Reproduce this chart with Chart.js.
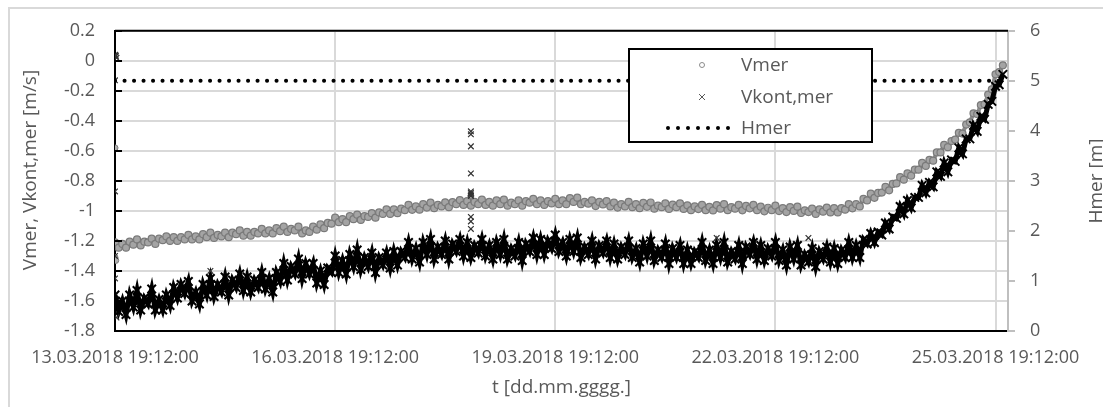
<!DOCTYPE html>
<html>
<head>
<meta charset="utf-8">
<script src="https://cdn.jsdelivr.net/npm/chart.js@4.4.1/dist/chart.umd.min.js"></script>
<style>
  html, body { margin: 0; padding: 0; background: #fff; }
  #wrap { width: 1103px; height: 407px; }
</style>
</head>
<body>
<div id="wrap"><canvas id="chart" width="1103" height="407"></canvas></div>
<script>
// time axis: days after 13.03.2018 19:12:00, one reading every 0.05 day
const START = Date.UTC(2018, 2, 13, 19, 12, 0);
const T_STEP = 0.05;
const xTicks = [0, 3, 6, 9, 12];

// one row per day
const vmer = [
  -1.21, -1.245, -1.22, -1.245, -1.205, -1.225, -1.19, -1.23, -1.205, -1.21, -1.185, -1.22, -1.185, -1.195, -1.17, -1.20, -1.175, -1.20, -1.175, -1.19,
  -1.16, -1.19, -1.17, -1.19, -1.155, -1.175, -1.145, -1.18, -1.16, -1.17, -1.145, -1.175, -1.145, -1.155, -1.13, -1.165, -1.14, -1.165, -1.14, -1.15,
  -1.12, -1.15, -1.13, -1.15, -1.115, -1.135, -1.105, -1.14, -1.12, -1.13, -1.105, -1.15, -1.13, -1.14, -1.105, -1.125, -1.09, -1.115, -1.08, -1.085,
  -1.045, -1.075, -1.055, -1.075, -1.035, -1.055, -1.025, -1.06, -1.035, -1.04, -1.015, -1.045, -1.01, -1.02, -0.99, -1.02, -0.99, -1.015, -0.985, -0.995,
  -0.96, -0.993, -0.97, -0.992, -0.955, -0.978, -0.945, -0.982, -0.96, -0.97, -0.943, -0.975, -0.942, -0.955, -0.928, -0.96, -0.935, -0.965, -0.94, -0.955,
  -0.925, -0.96, -0.94, -0.965, -0.93, -0.955, -0.925, -0.965, -0.945, -0.955, -0.93, -0.965, -0.935, -0.945, -0.92, -0.955, -0.93, -0.96, -0.935, -0.95,
  -0.92, -0.955, -0.93, -0.955, -0.915, -0.94, -0.912, -0.955, -0.94, -0.952, -0.93, -0.968, -0.94, -0.957, -0.935, -0.97, -0.945, -0.978, -0.955, -0.97,
  -0.94, -0.975, -0.955, -0.982, -0.947, -0.973, -0.944, -0.985, -0.965, -0.975, -0.95, -0.987, -0.958, -0.975, -0.95, -0.987, -0.963, -0.995, -0.97, -0.988,
  -0.96, -0.995, -0.973, -0.997, -0.961, -0.985, -0.955, -0.995, -0.975, -0.985, -0.96, -0.996, -0.967, -0.983, -0.96, -0.995, -0.972, -1.003, -0.979, -0.995,
  -0.965, -1.001, -0.982, -1.008, -0.975, -1.00, -0.972, -1.014, -0.996, -1.008, -0.985, -1.02, -0.99, -1.005, -0.978, -1.01, -0.982, -1.01, -0.982, -0.992,
  -0.955, -0.983, -0.955, -0.97, -0.92, -0.93, -0.885, -0.913, -0.88, -0.878, -0.84, -0.863, -0.82, -0.817, -0.775, -0.792, -0.75, -0.765, -0.725, -0.725,
  -0.68, -0.70, -0.66, -0.665, -0.61, -0.61, -0.56, -0.575, -0.535, -0.525, -0.48, -0.485, -0.425, -0.41, -0.35, -0.355, -0.295, -0.29, -0.225, -0.19,
  -0.09, -0.075, -0.03
];

const vkont = [
  -1.56, -1.67, -1.60, -1.69, -1.56, -1.64, -1.53, -1.66, -1.58, -1.62, -1.52, -1.66, -1.59, -1.66, -1.56, -1.63, -1.51, -1.58, -1.49, -1.55,
  -1.47, -1.60, -1.54, -1.62, -1.49, -1.56, -1.45, -1.57, -1.49, -1.54, -1.44, -1.56, -1.46, -1.51, -1.42, -1.53, -1.44, -1.54, -1.46, -1.51,
  -1.41, -1.52, -1.45, -1.54, -1.41, -1.47, -1.35, -1.46, -1.37, -1.42, -1.32, -1.45, -1.35, -1.42, -1.35, -1.48, -1.40, -1.49, -1.38, -1.41,
  -1.30, -1.41, -1.33, -1.42, -1.29, -1.37, -1.26, -1.39, -1.31, -1.37, -1.28, -1.41, -1.31, -1.36, -1.28, -1.38, -1.27, -1.36, -1.27, -1.31,
  -1.21, -1.32, -1.25, -1.34, -1.21, -1.29, -1.19, -1.32, -1.24, -1.29, -1.20, -1.32, -1.22, -1.27, -1.19, -1.30, -1.21, -1.31, -1.23, -1.28,
  -1.19, -1.30, -1.23, -1.32, -1.21, -1.29, -1.19, -1.32, -1.25, -1.30, -1.21, -1.33, -1.22, -1.27, -1.18, -1.29, -1.19, -1.29, -1.20, -1.25,
  -1.16, -1.27, -1.21, -1.30, -1.19, -1.27, -1.18, -1.31, -1.24, -1.29, -1.20, -1.32, -1.23, -1.28, -1.20, -1.31, -1.22, -1.32, -1.24, -1.29,
  -1.20, -1.31, -1.25, -1.34, -1.22, -1.30, -1.20, -1.33, -1.26, -1.31, -1.22, -1.35, -1.25, -1.31, -1.23, -1.35, -1.26, -1.35, -1.27, -1.31,
  -1.21, -1.33, -1.26, -1.35, -1.23, -1.31, -1.21, -1.34, -1.27, -1.32, -1.23, -1.35, -1.24, -1.29, -1.21, -1.32, -1.23, -1.33, -1.25, -1.30,
  -1.21, -1.33, -1.26, -1.36, -1.24, -1.32, -1.23, -1.36, -1.29, -1.34, -1.25, -1.37, -1.27, -1.32, -1.24, -1.34, -1.25, -1.35, -1.26, -1.31,
  -1.21, -1.31, -1.23, -1.31, -1.19, -1.22, -1.15, -1.21, -1.14, -1.16, -1.08, -1.12, -1.04, -1.05, -0.97, -1.02, -0.93, -0.98, -0.91, -0.91,
  -0.83, -0.88, -0.81, -0.84, -0.74, -0.77, -0.68, -0.74, -0.66, -0.67, -0.58, -0.62, -0.52, -0.52, -0.43, -0.47, -0.37, -0.39, -0.29, -0.27,
  -0.17, -0.16, -0.09
];

// single stray readings
const vmerOddT = [0, 0, 0.01, 4.85];
const vmerOddV = [-0.58, -1.31, -1.33, -0.90];
const vkontOddT = [0, 0.01, 0.02, 0.01, 0, 0, 0, 0, 0.02, 1.3, 4.85, 4.85, 4.85, 4.85, 4.85, 4.85, 4.85, 4.85, 4.85, 4.85, 4.85, 8.2, 9.45];
const vkontOddV = [0.04, 0.03, 0.02, 0.035, -0.13, -0.87, -1.30, -1.45, -1.71, -1.40, -0.47, -0.49, -0.57, -0.75, -0.87, -0.88, -0.89, -0.90, -1.04, -1.07, -1.12, -1.18, -1.18];

const hmerT = [0, 12.05];
const hmer = [5, 5];

const FONT = "'Open Sans', sans-serif";
const TXT = '#595959';

const tDays = vmer.map((v, i) => Math.round(i * T_STEP * 100) / 100);
const pts = (ts, vs) => vs.map((v, i) => ({ x: ts[i], y: v }));

function fmtDate(v) {
  const d = new Date(START + Math.round(v * 86400000));
  const p = n => String(n).padStart(2, '0');
  return p(d.getUTCDate()) + '.' + p(d.getUTCMonth() + 1) + '.' + d.getUTCFullYear() + ' ' +
    p(d.getUTCHours()) + ':' + p(d.getUTCMinutes()) + ':' + p(d.getUTCSeconds());
}

function vText(ctx, text, x, y) {
  ctx.save();
  ctx.translate(x, y);
  ctx.rotate(-Math.PI / 2);
  ctx.fillStyle = TXT;
  ctx.font = '19px ' + FONT;
  ctx.textAlign = 'center';
  ctx.textBaseline = 'middle';
  ctx.fillText(text, 0, 0);
  ctx.restore();
}

const frame = {
  id: 'frame',
  beforeDraw(chart) {
    const ctx = chart.ctx;
    ctx.save();
    ctx.fillStyle = '#fff';
    ctx.fillRect(0, 0, chart.width, chart.height);
    ctx.strokeStyle = '#d9d9d9';
    ctx.lineWidth = 2;
    ctx.beginPath();
    ctx.moveTo(9, chart.height);
    ctx.lineTo(9, 8);
    ctx.lineTo(chart.width, 8);
    ctx.stroke();
    ctx.restore();
  },
  afterDraw(chart) {
    const ctx = chart.ctx;
    const a = chart.chartArea;
    const y = chart.scales.y;
    ctx.save();
    ctx.strokeStyle = '#000';
    ctx.lineWidth = 2;
    ctx.beginPath();
    ctx.moveTo(a.left, a.top);
    ctx.lineTo(a.right, a.top);
    y.ticks.forEach(t => {
      const py = Math.round(y.getPixelForValue(t.value));
      ctx.moveTo(a.left, py);
      ctx.lineTo(a.left + 7, py);
    });
    ctx.stroke();
    ctx.restore();

    vText(ctx, 'Vmer, Vkont,mer [m/s]', 31, 170);
    vText(ctx, 'Hmer [m]', 1097, 181);

    // legend
    const L = { x: 629, y: 49, w: 243, h: 93, mark: 702, text: 741, rows: [65, 97, 128] };
    ctx.save();
    ctx.fillStyle = '#fff';
    ctx.fillRect(L.x, L.y, L.w, L.h);
    ctx.strokeStyle = '#000';
    ctx.lineWidth = 2;
    ctx.strokeRect(L.x, L.y, L.w, L.h);
    const ds = chart.data.datasets;
    ctx.font = '19px ' + FONT;
    ctx.fillStyle = TXT;
    ctx.textBaseline = 'middle';
    for (let i = 0; i < 3; i++) ctx.fillText(ds[i].label, L.text, L.rows[i] + 1);
    ctx.lineWidth = 1;
    ctx.strokeStyle = '#8c8c8c';
    ctx.beginPath();
    ctx.arc(L.mark, L.rows[0], 2.5, 0, Math.PI * 2);
    ctx.stroke();
    ctx.strokeStyle = '#595959';
    ctx.beginPath();
    ctx.moveTo(L.mark - 3, L.rows[1] - 3); ctx.lineTo(L.mark + 3, L.rows[1] + 3);
    ctx.moveTo(L.mark + 3, L.rows[1] - 3); ctx.lineTo(L.mark - 3, L.rows[1] + 3);
    ctx.stroke();
    ctx.fillStyle = '#000';
    for (let k = 0; k < 7; k++) {
      ctx.beginPath();
      ctx.arc(668 + k * 10, L.rows[2], 2, 0, Math.PI * 2);
      ctx.fill();
    }
    ctx.restore();
  }
};

Chart.defaults.font.family = FONT;

new Chart(document.getElementById('chart'), {
  type: 'scatter',
  data: {
    datasets: [
      {
        label: 'Vmer', data: pts(tDays, vmer), yAxisID: 'y', order: 3,
        showLine: true, borderColor: '#8c8c8c', borderWidth: 4,
        pointStyle: 'circle', pointRadius: 3.5, pointBorderWidth: 1.2,
        pointBorderColor: '#7a7a7a', pointBackgroundColor: '#a4a4a4'
      },
      {
        label: 'Vkont,mer', data: pts(tDays, vkont), yAxisID: 'y', order: 2,
        showLine: true, borderColor: '#000', borderWidth: 5,
        pointStyle: 'crossRot', pointRadius: 6, pointBorderWidth: 2,
        pointBorderColor: '#000'
      },
      {
        label: 'Hmer', data: pts(hmerT, hmer), yAxisID: 'y2', order: 0,
        showLine: true, borderColor: '#000', borderWidth: 4,
        borderDash: [0.1, 9.4], borderCapStyle: 'round', pointRadius: 0
      },
      {
        label: 'Vmer odd', data: pts(vmerOddT, vmerOddV), yAxisID: 'y', order: 3,
        pointStyle: 'circle', pointRadius: 3, pointBorderWidth: 1,
        pointBorderColor: '#7a7a7a', pointBackgroundColor: '#b0b0b0'
      },
      {
        label: 'Vkont odd', data: pts(vkontOddT, vkontOddV), yAxisID: 'y', order: 1,
        pointStyle: 'crossRot', pointRadius: 4, pointBorderWidth: 1.2,
        pointBorderColor: '#333'
      }
    ]
  },
  options: {
    responsive: false,
    animation: false,
    devicePixelRatio: 1,
    layout: { padding: { top: 30, left: 0, right: 0, bottom: 0 } },
    plugins: { legend: { display: false }, tooltip: { enabled: false } },
    scales: {
      x: {
        type: 'linear', position: 'bottom', min: 0, max: 12.17,
        afterBuildTicks: s => { s.ticks = xTicks.map(v => ({ value: v })); },
        afterFit: s => { s.height = 76; },
        grid: { color: '#d9d9d9', lineWidth: 2, drawTicks: false },
        border: { color: '#000', width: 2 },
        ticks: { padding: 16, color: TXT, font: { size: 18 }, maxRotation: 0, autoSkip: false, callback: v => fmtDate(v) },
        title: { display: true, text: 't [dd.mm.gggg.]', color: TXT, font: { size: 19 }, padding: { top: 0, bottom: 8 } }
      },
      y: {
        position: 'left', min: -1.8, max: 0.2,
        afterFit: s => { s.width = 115; },
        grid: { color: '#d9d9d9', lineWidth: 2, drawTicks: false },
        border: { color: '#000', width: 2 },
        ticks: { stepSize: 0.2, padding: 20, color: TXT, font: { size: 18 }, callback: v => String(Number(v.toFixed(1))) }
      },
      y2: {
        position: 'right', min: 0, max: 6,
        afterFit: s => { s.width = 95; },
        grid: { drawOnChartArea: false, color: '#bfbfbf', lineWidth: 2, drawTicks: true, tickLength: 7 },
        border: { color: '#bfbfbf', width: 2 },
        ticks: { stepSize: 1, padding: 15, color: TXT, font: { size: 18 } }
      }
    }
  },
  plugins: [frame]
});
</script>
</body>
</html>
